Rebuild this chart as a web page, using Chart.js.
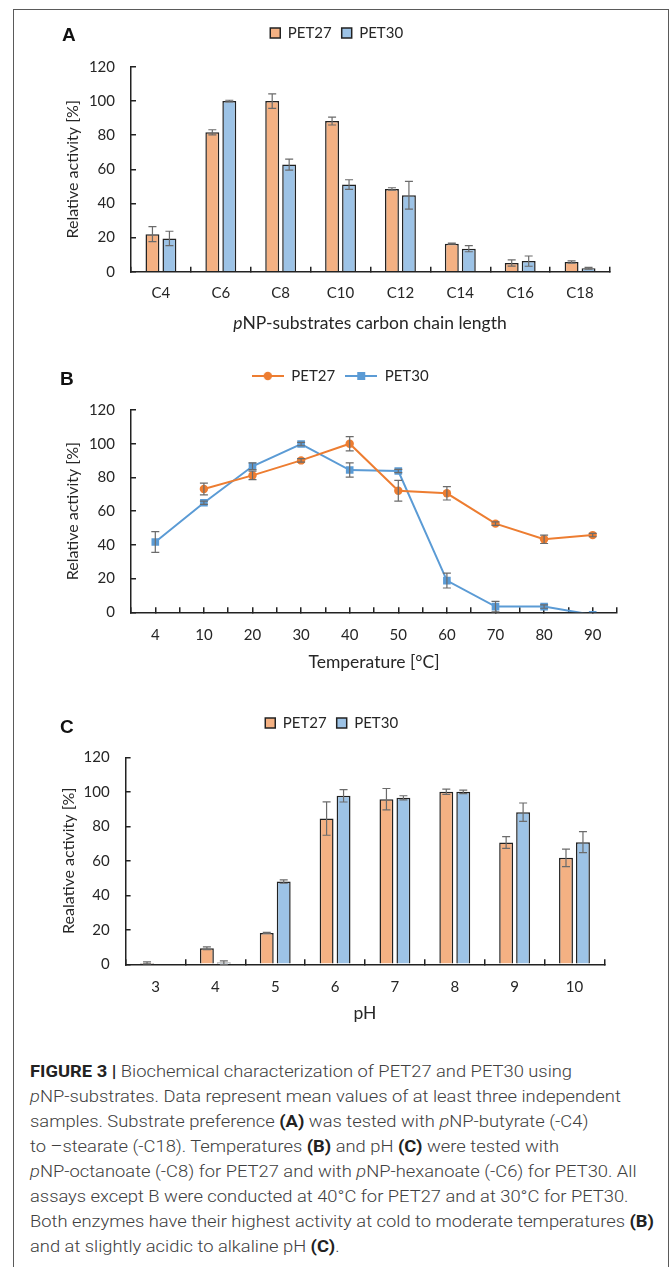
<!DOCTYPE html>
<html>
<head>
<meta charset="utf-8">
<script src="https://cdn.jsdelivr.net/npm/chart.js@4.4.0/dist/chart.umd.min.js"></script>
<style>
  body { margin: 0; background: #fff; }
  #page { position: relative; width: 672px; height: 1267px; overflow: hidden; background: #fff; font-family: Lato, sans-serif; }
  #frame { position: absolute; left: 13px; top: 9px; width: 654px; height: 1300px; border: 1px solid #5a5a5a; }
  .panel { position: absolute; left: 0; width: 672px; }
  .letter { position: absolute; font: bold 19px "Liberation Sans", Arial, sans-serif; line-height: 20px; color: #111; }
  #xtitleA { position: absolute; left: 370px; top: 322px; transform: translate(-50%, -50%); font-size: 17.5px; color: #262626; white-space: nowrap; }
  #caption { position: absolute; left: 30px; top: 1059px; transform-origin: 0 0; font-family: "Liberation Sans Narrow", Roboto, sans-serif; font-weight: 300; font-size: 17px; line-height: 25px; color: #404040; white-space: nowrap; display: inline-block; }
  #caption b { color: #222; font-weight: bold; }
</style>
</head>
<body>
<div id="page">
  <div id="frame"></div>
  <div class="panel" style="top:0;height:340px"><canvas id="chartA"></canvas></div>
  <div class="panel" style="top:340px;height:345px"><canvas id="chartB"></canvas></div>
  <div class="panel" style="top:685px;height:345px"><canvas id="chartC"></canvas></div>
  <div class="letter" style="left:62px;top:25px">A</div>
  <div class="letter" style="left:60px;top:369px">B</div>
  <div class="letter" style="left:60px;top:717px">C</div>
  <div id="xtitleA"><i>p</i>NP-substrates carbon chain length</div>
  <div id="caption">
    <div><b>FIGURE 3 |</b> Biochemical characterization of PET27 and PET30 using</div>
    <div><i>p</i>NP-substrates. Data represent mean values of at least three independent</div>
    <div>samples. Substrate preference <b>(A)</b> was tested with <i>p</i>NP-butyrate (-C4)</div>
    <div>to –stearate (-C18). Temperatures <b>(B)</b> and pH <b>(C)</b> were tested with</div>
    <div><i>p</i>NP-octanoate (-C8) for PET27 and with <i>p</i>NP-hexanoate (-C6) for PET30. All</div>
    <div>assays except B were conducted at 40°C for PET27 and at 30°C for PET30.</div>
    <div>Both enzymes have their highest activity at cold to moderate temperatures <b>(B)</b></div>
    <div>and at slightly acidic to alkaline pH <b>(C)</b>.</div>
  </div>
</div>
<script>
// panel A: substrate chain length
var chainLabels = ['C4', 'C6', 'C8', 'C10', 'C12', 'C14', 'C16', 'C18'];
var chainPet27 = [22, 81.7, 100, 88.3, 48.5, 16.4, 5.1, 5.7];
var chainPet27Err = [4.4, 1.5, 4.2, 2.3, 0.7, 0.3, 1.8, 0.7];
var chainPet30 = [19.5, 100, 62.8, 51.1, 44.8, 13.5, 6.2, 2.0];
var chainPet30Err = [4.2, 0.5, 3.2, 2.8, 8.1, 1.8, 3.0, 0.5];

// panel B: temperature
var tempLabels = ['4', '10', '20', '30', '40', '50', '60', '70', '80', '90'];
var tempPet27 = [null, 73.1, 81.2, 90.1, 100, 72.1, 70.6, 52.6, 43.3, 45.8];
var tempPet27Err = [null, 3.5, 2.5, 1, 4.2, 6.2, 4, 1, 2.5, 1];
var tempPet30 = [41.7, 65, 86.6, 99.8, 84.4, 83.8, 18.8, 3.4, 3.4, -1.5];
var tempPet30Err = [6.1, 1, 2, 1, 4.2, 1, 4.4, 3.1, 1, 0];

// panel C: pH
var phLabels = ['3', '4', '5', '6', '7', '8', '9', '10'];
var phPet27 = [0.8, 9.3, 18.2, 84.5, 95.7, 100, 70.6, 61.7];
var phPet27Err = [0.6, 0.8, 0.3, 9.7, 6.2, 1.5, 3.4, 5.1];
var phPet30 = [0, 1, 48, 97.7, 96.5, 100, 88.2, 70.8];
var phPet30Err = [0, 1, 1, 3.6, 1.2, 1, 5.3, 6.1];

var yTicks = [0, 20, 40, 60, 80, 100, 120];

var ORANGE_FILL = '#f4b183', BLUE_FILL = '#9dc3e6';
var ORANGE_LINE = '#ed7d31', BLUE_LINE = '#5b9bd5';
var INK = '#222';
var Y_HALF = 9.6;   // half line height of the 16px y title
var X_HALF = 10.5;  // half line height of the 17.5px x title

Chart.defaults.font.family = 'Lato, sans-serif';
Chart.defaults.color = '#262626';
Chart.defaults.animation = false;

// vertical error bars drawn from each dataset's errorBars array
var errorBarPlugin = {
  id: 'errorBars',
  afterDatasetsDraw: function (chart) {
    var ctx = chart.ctx, y = chart.scales.y;
    ctx.save();
    ctx.strokeStyle = '#6b6b6b';
    ctx.lineWidth = 1.2;
    chart.data.datasets.forEach(function (ds, i) {
      if (!ds.errorBars) return;
      chart.getDatasetMeta(i).data.forEach(function (el, j) {
        var v = ds.data[j], e = ds.errorBars[j];
        if (v == null || !e) return;
        var top = y.getPixelForValue(v + e), bot = y.getPixelForValue(v - e), x = el.x;
        ctx.beginPath();
        ctx.moveTo(x, top); ctx.lineTo(x, bot);
        ctx.moveTo(x - 4, top); ctx.lineTo(x + 4, top);
        ctx.moveTo(x - 4, bot); ctx.lineTo(x + 4, bot);
        ctx.stroke();
      });
    });
    ctx.restore();
  }
};

// g = plot box and text anchors inside the canvas
function makeOptions(g, yTitle, xTitle) {
  var axisGrid = { drawOnChartArea: false, tickLength: -5, color: INK, lineWidth: 1.5 };
  var axisBorder = { color: INK, width: 1.5 };
  return {
    responsive: true,
    maintainAspectRatio: false,
    layout: { padding: { left: g.yTitleX - Y_HALF, right: 672 - g.right, top: g.legendY - 17.5, bottom: g.height - g.xTitleY - X_HALF } },
    plugins: {
      tooltip: { enabled: false },
      legend: {
        position: 'top',
        labels: { boxWidth: 10, boxHeight: 10, padding: 10, font: { size: 15 }, color: '#262626' }
      }
    },
    scales: {
      x: {
        ticks: { padding: g.xLabelY - g.bottom + 5 - 9, font: { size: 15 }, color: '#262626' },
        grid: axisGrid,
        border: axisBorder,
        title: { display: !!xTitle, text: xTitle, font: { size: 17.5 }, padding: 0, color: '#262626' },
        afterFit: function (s) { s.height = g.xTitleY + X_HALF - g.bottom; }
      },
      gap: {
        position: 'top',
        ticks: { display: false },
        grid: { display: false },
        border: { display: false },
        afterFit: function (s) { s.height = g.top - g.legendY - 17.5; }
      },
      y: {
        min: 0, max: 120,
        afterBuildTicks: function (s) { s.ticks = yTicks.map(function (v) { return { value: v }; }); },
        ticks: { padding: 21, font: { size: 15 }, color: '#262626' },
        grid: axisGrid,
        border: axisBorder,
        title: { display: true, text: yTitle, font: { size: 16 }, padding: 0, color: '#262626' },
        afterFit: function (s) { s.width = g.left - (g.yTitleX - Y_HALF); }
      }
    }
  };
}

function barDataset(label, values, errors, fill) {
  return {
    label: label, data: values, errorBars: errors,
    backgroundColor: fill, borderColor: INK, borderWidth: 1.5,
    categoryPercentage: 0.567, barPercentage: 0.82
  };
}

// panel A
new Chart(document.getElementById('chartA'), {
  type: 'bar',
  data: {
    labels: chainLabels,
    datasets: [
      barDataset('PET27', chainPet27, chainPet27Err, ORANGE_FILL),
      barDataset('PET30', chainPet30, chainPet30Err, BLUE_FILL)
    ]
  },
  options: makeOptions({ height: 340, left: 131, right: 610, top: 67, bottom: 271.7, legendY: 33, yTitleX: 73, xLabelY: 293, xTitleY: 322 },
    'Relative activity [%]', ''),
  plugins: [errorBarPlugin]
});

// panel B: line + marker glyphs for the legend
function legendGlyph(color, style) {
  var c = document.createElement('canvas');
  c.width = 32; c.height = 12;
  var g = c.getContext('2d');
  g.strokeStyle = color; g.lineWidth = 2;
  g.beginPath(); g.moveTo(0, 6); g.lineTo(32, 6); g.stroke();
  g.fillStyle = color;
  if (style === 'circle') { g.beginPath(); g.arc(16, 6, 4.2, 0, Math.PI * 2); g.fill(); }
  else g.fillRect(12, 2, 8, 8);
  return c;
}
var tempGlyphs = [legendGlyph(ORANGE_LINE, 'circle'), legendGlyph(BLUE_LINE, 'rect')];

var optsB = makeOptions({ height: 345, left: 131, right: 617, top: 70, bottom: 272.3, legendY: 36, yTitleX: 73, xLabelY: 295, xTitleY: 322 },
  'Relative activity [%]', 'Temperature [°C]');
optsB.scales.x.offset = true;
optsB.scales.x.grid = Object.assign({}, optsB.scales.x.grid, { offset: false });
// second category axis only for the tick marks between the temperatures
optsB.scales.x2 = {
  type: 'category', position: 'bottom', weight: -1, offset: true,
  ticks: { display: false },
  grid: { drawOnChartArea: false, offset: true, tickLength: -5, color: INK, lineWidth: 1.5 },
  border: { display: false },
  afterFit: function (s) { s.height = 0; }
};
optsB.plugins.legend.labels = {
  usePointStyle: true, pointStyleWidth: 32, padding: 10, font: { size: 15 }, color: '#262626',
  generateLabels: function (chart) {
    var items = Chart.defaults.plugins.legend.labels.generateLabels(chart);
    items.forEach(function (it, i) { it.pointStyle = tempGlyphs[i]; });
    return items;
  }
};

new Chart(document.getElementById('chartB'), {
  type: 'line',
  data: {
    labels: tempLabels,
    datasets: [
      {
        label: 'PET27', data: tempPet27, errorBars: tempPet27Err,
        borderColor: ORANGE_LINE, backgroundColor: ORANGE_LINE, borderWidth: 2,
        pointStyle: 'circle', pointRadius: 4.2, pointBorderWidth: 0, clip: 0
      },
      {
        label: 'PET30', data: tempPet30, errorBars: tempPet30Err,
        borderColor: BLUE_LINE, backgroundColor: BLUE_LINE, borderWidth: 2,
        pointStyle: 'rect', pointRadius: 5.4, pointBorderWidth: 0, clip: 0
      }
    ]
  },
  options: optsB,
  plugins: [errorBarPlugin]
});

// panel C
new Chart(document.getElementById('chartC'), {
  type: 'bar',
  data: {
    labels: phLabels,
    datasets: [
      barDataset('PET27', phPet27, phPet27Err, ORANGE_FILL),
      barDataset('PET30', phPet30, phPet30Err, BLUE_FILL)
    ]
  },
  options: makeOptions({ height: 345, left: 125.6, right: 604.4, top: 72.3, bottom: 279.3, legendY: 38, yTitleX: 68.6, xLabelY: 302, xTitleY: 328 },
    'Realative activity [%]', 'pH'),
  plugins: [errorBarPlugin]
});

// squeeze the caption to the width of the printed block
var cap = document.getElementById('caption');
cap.style.transform = 'scaleX(' + (624 / cap.getBoundingClientRect().width) + ')';
</script>
</body>
</html>
